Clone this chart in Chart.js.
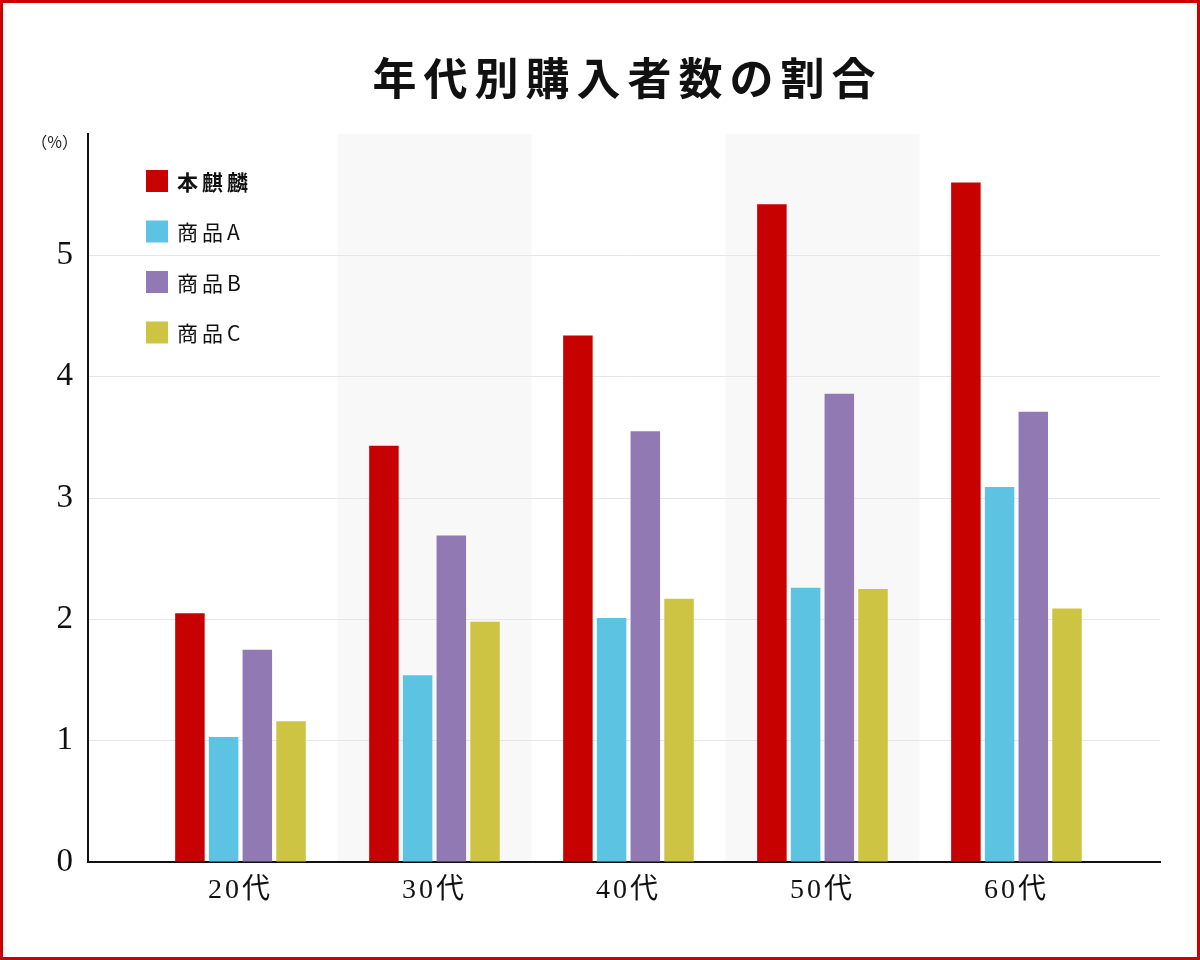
<!DOCTYPE html>
<html lang="ja">
<head>
<meta charset="utf-8">
<script src="https://cdn.jsdelivr.net/npm/chart.js@4/dist/chart.umd.min.js"></script>
<style>
  html, body { margin: 0; padding: 0; background: #fff; }
  canvas { display: block; }
</style>
</head>
<body>
<canvas id="chart" width="1200" height="960"></canvas>
<script>
const title = '年代別購入者数の割合'
const ages = ['20代', '30代', '40代', '50代', '60代']
const yTicks = [0, 1, 2, 3, 4, 5]
const unitLabel = '（%）'

const seriesNames = ['本麒麟', '商品A', '商品B', '商品C']
const honkirin = [2.05, 3.43, 4.34, 5.42, 5.60]
const productA = [1.03, 1.54, 2.01, 2.26, 3.09]
const productB = [1.75, 2.69, 3.55, 3.86, 3.71]
const productC = [1.16, 1.98, 2.17, 2.25, 2.09]
const colors = ['#c70000', '#5dc3e3', '#9179b4', '#cdc444']

const serif = '"Liberation Serif", "DejaVu Serif", "Noto Sans CJK JP", serif'
const sans = '"Noto Sans CJK JP", "Noto Sans", sans-serif'

const series = [honkirin, productA, productB, productC]
const datasets = series.map((values, i) => ({
  label: seriesNames[i],
  data: values.map((v, j) => ({ x: j, y: v })),
  backgroundColor: colors[i],
  barPercentage: 0.875,
  categoryPercentage: 0.695,
}))

// white page, red frame, shaded bands behind every other age group
const frame = {
  id: 'frame',
  beforeDraw(chart) {
    const { ctx, chartArea, scales } = chart
    ctx.save()
    ctx.fillStyle = '#fff'
    ctx.fillRect(0, 0, chart.width, chart.height)
    ctx.fillStyle = '#f8f8f8'
    ages.forEach((a, i) => {
      if (i % 2 === 0) return
      const l = scales.x.getPixelForValue(i - 0.5)
      const r = scales.x.getPixelForValue(i + 0.5)
      ctx.fillRect(l, chartArea.top, r - l, chartArea.bottom - chartArea.top)
    })
    ctx.restore()
    // spaced out tick labels (left set for the axis drawing that follows)
    ctx.letterSpacing = '3px'
  },
  afterDraw(chart) {
    const { ctx, chartArea } = chart
    ctx.save()
    const cx = (chartArea.left + chartArea.right) / 2

    // title
    ctx.fillStyle = '#111'
    ctx.font = 'bold 44px ' + sans
    ctx.letterSpacing = '7px'
    ctx.textAlign = 'center'
    ctx.textBaseline = 'middle'
    ctx.fillText(title, cx + 3.5, 78)

    // unit label above the y axis
    ctx.fillStyle = '#222'
    ctx.font = '16px ' + sans
    ctx.letterSpacing = '0px'
    ctx.textAlign = 'right'
    ctx.fillText(unitLabel, chartArea.left - 10, chartArea.top + 8)

    // legend inside the plot
    chart.data.datasets.forEach((ds, i) => {
      const x = chartArea.left + 58
      const y = chartArea.top + 47 + i * 50.5
      ctx.fillStyle = ds.backgroundColor
      ctx.fillRect(x, y - 11, 22, 22)
      ctx.fillStyle = '#111'
      ctx.font = (i === 0 ? 'bold ' : '') + '21px ' + sans
      ctx.letterSpacing = '4px'
      ctx.textAlign = 'left'
      ctx.fillText(ds.label, x + 31, y + 1)
    })

    ctx.letterSpacing = '0px'
    ctx.strokeStyle = '#cc0000'
    ctx.lineWidth = 3
    ctx.strokeRect(1.5, 1.5, chart.width - 3, chart.height - 3)
    ctx.restore()
    ctx.letterSpacing = '0px'
  },
}

new Chart(document.getElementById('chart'), {
  type: 'bar',
  data: { datasets },
  plugins: [frame],
  options: {
    responsive: false,
    animation: false,
    layout: { padding: { left: 48, right: 40, top: 134, bottom: 0 } },
    plugins: {
      legend: { display: false },
      tooltip: { enabled: false },
      title: { display: false },
    },
    scales: {
      x: {
        type: 'linear',
        offset: false,
        min: -0.786,
        max: 4.74,
        afterBuildTicks: axis => { axis.ticks = ages.map((a, i) => ({ value: i })) },
        afterFit: axis => { axis.height = 98 },
        grid: { display: false, drawTicks: false },
        border: { color: '#111', width: 2 },
        ticks: {
          callback: v => ages[v],
          color: '#111',
          padding: 12,
          font: { family: serif, size: 28 },
        },
      },
      y: {
        min: 0,
        max: 6,
        afterBuildTicks: axis => { axis.ticks = yTicks.concat([6]).map(v => ({ value: v })) },
        afterFit: axis => { axis.width = 40 },
        grid: {
          drawTicks: false,
          color: ctx => (ctx.tick.value > 0 && ctx.tick.value < 6 ? '#e6e6e6' : 'rgba(0,0,0,0)'),
        },
        border: { color: '#111', width: 2 },
        ticks: {
          callback: v => (yTicks.includes(v) ? String(v) : ''),
          color: '#111',
          padding: 12,
          font: { family: serif, size: 33 },
        },
      },
    },
  },
})
</script>
</body>
</html>
